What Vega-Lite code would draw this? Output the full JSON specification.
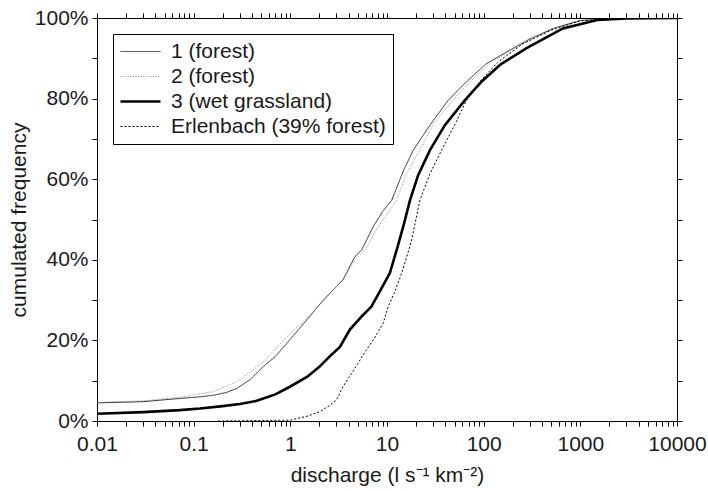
{
  "$schema": "https://vega.github.io/schema/vega-lite/v6.json",
  "width": 580,
  "height": 403,
  "autosize": "none",
  "padding": {"left": 97, "top": 18, "right": 31, "bottom": 70},
  "background": "white",
  "config": {
    "font": "Liberation Sans",
    "view": {"stroke": null},
    "axis": {"grid": false, "domainColor": "#000", "domainWidth": 1, "tickColor": "#000", "labelColor": "#1a1a1a", "titleColor": "#1a1a1a", "labelFontSize": 21, "titleFontSize": 21, "titleFontWeight": "normal", "labelFlush": false, "labelOverlap": false, "labelBound": false}
  },
  "datasets": {
    "curves": [
      {"s": "1 (forest)", "x": 0.01, "y": 0.045},
      {"s": "1 (forest)", "x": 0.03, "y": 0.048},
      {"s": "1 (forest)", "x": 0.072, "y": 0.056},
      {"s": "1 (forest)", "x": 0.116, "y": 0.06},
      {"s": "1 (forest)", "x": 0.16, "y": 0.064},
      {"s": "1 (forest)", "x": 0.22, "y": 0.071},
      {"s": "1 (forest)", "x": 0.28, "y": 0.081},
      {"s": "1 (forest)", "x": 0.38, "y": 0.102},
      {"s": "1 (forest)", "x": 0.525, "y": 0.135},
      {"s": "1 (forest)", "x": 0.7, "y": 0.16},
      {"s": "1 (forest)", "x": 0.92, "y": 0.193},
      {"s": "1 (forest)", "x": 1.47, "y": 0.25},
      {"s": "1 (forest)", "x": 2.19, "y": 0.3},
      {"s": "1 (forest)", "x": 2.57, "y": 0.317},
      {"s": "1 (forest)", "x": 3.5, "y": 0.35},
      {"s": "1 (forest)", "x": 4.66, "y": 0.408},
      {"s": "1 (forest)", "x": 5.46, "y": 0.424},
      {"s": "1 (forest)", "x": 6.15, "y": 0.449},
      {"s": "1 (forest)", "x": 7.2, "y": 0.482},
      {"s": "1 (forest)", "x": 9, "y": 0.52},
      {"s": "1 (forest)", "x": 11.2, "y": 0.548},
      {"s": "1 (forest)", "x": 14.9, "y": 0.623},
      {"s": "1 (forest)", "x": 18.7, "y": 0.672},
      {"s": "1 (forest)", "x": 27.8, "y": 0.734},
      {"s": "1 (forest)", "x": 43, "y": 0.796},
      {"s": "1 (forest)", "x": 66.5, "y": 0.842},
      {"s": "1 (forest)", "x": 107, "y": 0.887},
      {"s": "1 (forest)", "x": 202, "y": 0.925},
      {"s": "1 (forest)", "x": 300, "y": 0.948},
      {"s": "1 (forest)", "x": 523, "y": 0.974},
      {"s": "1 (forest)", "x": 1000, "y": 0.994},
      {"s": "1 (forest)", "x": 2000, "y": 0.998},
      {"s": "1 (forest)", "x": 5000, "y": 1.0},
      {"s": "1 (forest)", "x": 10000, "y": 1.0},
      {"s": "2 (forest)", "x": 0.01, "y": 0.046},
      {"s": "2 (forest)", "x": 0.03, "y": 0.05},
      {"s": "2 (forest)", "x": 0.072, "y": 0.059},
      {"s": "2 (forest)", "x": 0.16, "y": 0.073},
      {"s": "2 (forest)", "x": 0.28, "y": 0.098},
      {"s": "2 (forest)", "x": 0.38, "y": 0.12},
      {"s": "2 (forest)", "x": 0.525, "y": 0.147},
      {"s": "2 (forest)", "x": 0.92, "y": 0.209},
      {"s": "2 (forest)", "x": 1.47, "y": 0.254},
      {"s": "2 (forest)", "x": 2.2, "y": 0.298},
      {"s": "2 (forest)", "x": 3.5, "y": 0.352},
      {"s": "2 (forest)", "x": 4.66, "y": 0.4},
      {"s": "2 (forest)", "x": 5.91, "y": 0.424},
      {"s": "2 (forest)", "x": 8, "y": 0.48},
      {"s": "2 (forest)", "x": 12.6, "y": 0.548},
      {"s": "2 (forest)", "x": 16, "y": 0.615},
      {"s": "2 (forest)", "x": 21.9, "y": 0.672},
      {"s": "2 (forest)", "x": 29.6, "y": 0.734},
      {"s": "2 (forest)", "x": 48, "y": 0.796},
      {"s": "2 (forest)", "x": 72, "y": 0.842},
      {"s": "2 (forest)", "x": 120, "y": 0.89},
      {"s": "2 (forest)", "x": 250, "y": 0.935},
      {"s": "2 (forest)", "x": 550, "y": 0.975},
      {"s": "2 (forest)", "x": 1000, "y": 0.993},
      {"s": "2 (forest)", "x": 3000, "y": 1.0},
      {"s": "2 (forest)", "x": 10000, "y": 1.0},
      {"s": "3 (wet grassland)", "x": 0.01, "y": 0.018},
      {"s": "3 (wet grassland)", "x": 0.03, "y": 0.022},
      {"s": "3 (wet grassland)", "x": 0.072, "y": 0.027},
      {"s": "3 (wet grassland)", "x": 0.116, "y": 0.031},
      {"s": "3 (wet grassland)", "x": 0.2, "y": 0.037},
      {"s": "3 (wet grassland)", "x": 0.3, "y": 0.042},
      {"s": "3 (wet grassland)", "x": 0.449, "y": 0.05},
      {"s": "3 (wet grassland)", "x": 0.7, "y": 0.066},
      {"s": "3 (wet grassland)", "x": 0.99, "y": 0.085},
      {"s": "3 (wet grassland)", "x": 1.5, "y": 0.11},
      {"s": "3 (wet grassland)", "x": 2.01, "y": 0.135},
      {"s": "3 (wet grassland)", "x": 2.57, "y": 0.161},
      {"s": "3 (wet grassland)", "x": 3.26, "y": 0.184},
      {"s": "3 (wet grassland)", "x": 4.13, "y": 0.227},
      {"s": "3 (wet grassland)", "x": 5.5, "y": 0.26},
      {"s": "3 (wet grassland)", "x": 6.9, "y": 0.284},
      {"s": "3 (wet grassland)", "x": 8.8, "y": 0.33},
      {"s": "3 (wet grassland)", "x": 10.7, "y": 0.367},
      {"s": "3 (wet grassland)", "x": 12.8, "y": 0.43},
      {"s": "3 (wet grassland)", "x": 15, "y": 0.49},
      {"s": "3 (wet grassland)", "x": 17.3, "y": 0.548},
      {"s": "3 (wet grassland)", "x": 21, "y": 0.61},
      {"s": "3 (wet grassland)", "x": 27.8, "y": 0.672},
      {"s": "3 (wet grassland)", "x": 39.7, "y": 0.734},
      {"s": "3 (wet grassland)", "x": 64, "y": 0.796},
      {"s": "3 (wet grassland)", "x": 95, "y": 0.842},
      {"s": "3 (wet grassland)", "x": 150, "y": 0.885},
      {"s": "3 (wet grassland)", "x": 278, "y": 0.925},
      {"s": "3 (wet grassland)", "x": 660, "y": 0.974},
      {"s": "3 (wet grassland)", "x": 1500, "y": 0.995},
      {"s": "3 (wet grassland)", "x": 3000, "y": 0.999},
      {"s": "3 (wet grassland)", "x": 10000, "y": 1.0},
      {"s": "Erlenbach (39% forest)", "x": 0.18, "y": 0.0},
      {"s": "Erlenbach (39% forest)", "x": 1.0, "y": 0.002},
      {"s": "Erlenbach (39% forest)", "x": 1.5, "y": 0.012},
      {"s": "Erlenbach (39% forest)", "x": 2.02, "y": 0.023},
      {"s": "Erlenbach (39% forest)", "x": 2.6, "y": 0.04},
      {"s": "Erlenbach (39% forest)", "x": 3.0, "y": 0.052},
      {"s": "Erlenbach (39% forest)", "x": 3.5, "y": 0.085},
      {"s": "Erlenbach (39% forest)", "x": 4.3, "y": 0.118},
      {"s": "Erlenbach (39% forest)", "x": 6.1, "y": 0.176},
      {"s": "Erlenbach (39% forest)", "x": 7.2, "y": 0.201},
      {"s": "Erlenbach (39% forest)", "x": 9.1, "y": 0.242},
      {"s": "Erlenbach (39% forest)", "x": 10.3, "y": 0.284},
      {"s": "Erlenbach (39% forest)", "x": 12, "y": 0.32},
      {"s": "Erlenbach (39% forest)", "x": 14.2, "y": 0.367},
      {"s": "Erlenbach (39% forest)", "x": 16.8, "y": 0.424},
      {"s": "Erlenbach (39% forest)", "x": 18, "y": 0.449},
      {"s": "Erlenbach (39% forest)", "x": 21.9, "y": 0.548},
      {"s": "Erlenbach (39% forest)", "x": 28, "y": 0.615},
      {"s": "Erlenbach (39% forest)", "x": 36.7, "y": 0.672},
      {"s": "Erlenbach (39% forest)", "x": 50, "y": 0.734},
      {"s": "Erlenbach (39% forest)", "x": 66.5, "y": 0.796},
      {"s": "Erlenbach (39% forest)", "x": 91, "y": 0.842},
      {"s": "Erlenbach (39% forest)", "x": 140, "y": 0.89},
      {"s": "Erlenbach (39% forest)", "x": 250, "y": 0.935},
      {"s": "Erlenbach (39% forest)", "x": 500, "y": 0.97},
      {"s": "Erlenbach (39% forest)", "x": 1000, "y": 0.993},
      {"s": "Erlenbach (39% forest)", "x": 3000, "y": 1.0},
      {"s": "Erlenbach (39% forest)", "x": 10000, "y": 1.0}
    ]
  },
  "data": {"name": "curves"},
  "resolve": {"axis": {"x": "independent", "y": "independent"}},
  "layer": [
    {
      "mark": {"type": "line", "opacity": 0},
      "encoding": {
        "x": {
          "field": "x", "type": "quantitative",
          "scale": {"type": "log", "domain": [0.01, 10000], "nice": false},
          "axis": {
            "orient": "bottom",
            "title": "discharge (l s⁻¹ km⁻²)",
            "titlePadding": 10,
            "values": [0.01, 0.1, 1, 10, 100, 1000, 10000],
            "format": "~g",
            "ticks": false,
            "domain": true,
            "labelPadding": 12
          }
        },
        "y": {
          "field": "y", "type": "quantitative",
          "scale": {"domain": [0, 1], "nice": false},
          "axis": {
            "orient": "left",
            "title": "cumulated frequency",
            "titlePadding": 5,
            "values": [0, 0.2, 0.4, 0.6, 0.8, 1],
            "format": ".0%",
            "ticks": false,
            "domain": true,
            "labelPadding": 9
          }
        },
        "detail": {"field": "s"}
      }
    },
    {
      "transform": [{"filter": "datum.s !== '3 (wet grassland)'"}],
      "mark": {"type": "line", "clip": true, "strokeWidth": 1},
      "encoding": {
        "x": {
          "field": "x", "type": "quantitative",
          "axis": {
            "orient": "bottom", "title": null, "labels": false,
            "values": [0.01,0.02,0.03,0.04,0.05,0.06,0.07,0.08,0.09,0.1,0.2,0.3,0.4,0.5,0.6,0.7,0.8,0.9,1,2,3,4,5,6,7,8,9,10,20,30,40,50,60,70,80,90,100,200,300,400,500,600,700,800,900,1000,2000,3000,4000,5000,6000,7000,8000,9000,10000],
            "ticks": true,
            "tickSize": 5,
            "tickWidth": 1,
            "domain": true
          }
        },
        "y": {
          "field": "y", "type": "quantitative",
          "axis": {
            "orient": "left", "title": null, "labels": false,
            "values": [0, 0.1, 0.2, 0.3, 0.4, 0.5, 0.6, 0.7, 0.8, 0.9, 1],
            "ticks": true,
            "tickSize": 5,
            "tickWidth": 1,
            "domain": true
          }
        },
        "color": {
          "field": "s", "type": "nominal",
          "scale": {"domain": ["1 (forest)", "2 (forest)", "3 (wet grassland)", "Erlenbach (39% forest)"], "range": ["#2a2a2a", "#8a8a8a", "#000000", "#000000"]},
          "legend": {
            "title": null, "orient": "none", "legendX": 16, "legendY": 16,
            "symbolType": "M-1,0H3", "symbolSize": 400, "labelFontSize": 21, "labelColor": "#1a1a1a",
            "strokeColor": "#000", "fillColor": "#fff", "padding": 7, "rowPadding": 3, "labelOffset": 30,
            "labelLimit": 400,
            "symbolStrokeWidth": 1,
            "encode": {"symbols": {"update": {"strokeWidth": {"signal": "datum.value === '3 (wet grassland)' ? 2.6 : 1"}}}}
          }
        },
        "strokeDash": {
          "field": "s", "type": "nominal",
          "scale": {"domain": ["1 (forest)", "2 (forest)", "3 (wet grassland)", "Erlenbach (39% forest)"], "range": [[1, 0], [1, 1.5], [1, 0], [2, 2]]},
          "legend": {"title": null}
        }
      }
    },
    {
      "transform": [{"filter": "datum.s === '3 (wet grassland)'"}],
      "mark": {"type": "line", "clip": true, "strokeWidth": 2.6, "color": "#000"},
      "encoding": {
        "x": {
          "field": "x", "type": "quantitative",
          "axis": {
            "orient": "top", "title": null, "labels": false,
            "values": [0.01,0.02,0.03,0.04,0.05,0.06,0.07,0.08,0.09,0.1,0.2,0.3,0.4,0.5,0.6,0.7,0.8,0.9,1,2,3,4,5,6,7,8,9,10,20,30,40,50,60,70,80,90,100,200,300,400,500,600,700,800,900,1000,2000,3000,4000,5000,6000,7000,8000,9000,10000],
            "ticks": true,
            "tickSize": 5,
            "tickWidth": 1,
            "domain": true
          }
        },
        "y": {
          "field": "y", "type": "quantitative",
          "axis": {
            "orient": "right", "title": null, "labels": false,
            "values": [0, 0.1, 0.2, 0.3, 0.4, 0.5, 0.6, 0.7, 0.8, 0.9, 1],
            "ticks": true,
            "tickSize": 5,
            "tickWidth": 1,
            "domain": true
          }
        }
      }
    }
  ]
}
